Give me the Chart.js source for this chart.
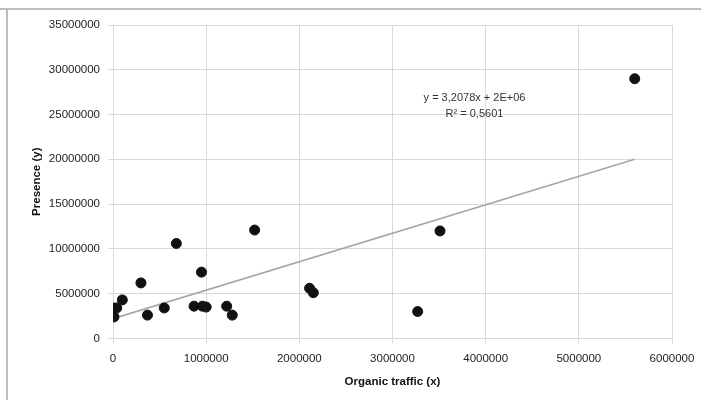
<!DOCTYPE html>
<html>
<head>
<meta charset="utf-8">
<script src="https://cdn.jsdelivr.net/npm/chart.js@4/dist/chart.umd.min.js"></script>
<style>
  html, body { margin: 0; padding: 0; background: #fff; }
  #wrap { width: 701px; height: 400px; }
</style>
</head>
<body>
<div id="wrap"><canvas id="grafico" width="701" height="400"></canvas></div>
<script>
// valores
const trafegoOrganico = [0, 40000, 10000, 100000, 300000, 370000, 550000, 680000, 870000, 950000,
                         960000, 1000000, 1220000, 1280000, 1520000, 2110000, 2150000, 3270000, 3510000, 5600000];
const presenca = [3400000, 3400000, 2400000, 4300000, 6200000, 2600000, 3400000, 10600000, 3600000, 7400000,
                  3600000, 3500000, 3600000, 2600000, 12100000, 5600000, 5100000, 3000000, 12000000, 29000000];
// linha de tendência (pontos extremos)
const tendenciaX = [0, 5600000];
const tendenciaY = [2200000, 20000000];
const eixoXTicks = [0, 1000000, 2000000, 3000000, 4000000, 5000000, 6000000];
const eixoYTicks = [0, 5000000, 10000000, 15000000, 20000000, 25000000, 30000000, 35000000];
const equacao = ['y = 3,2078x + 2E+06', 'R² = 0,5601'];

let pontos = [];
for (let i = 0; i < trafegoOrganico.length; i++) {
    pontos.push({ x: trafegoOrganico[i], y: presenca[i] });
}
let linha = [];
for (let i = 0; i < tendenciaX.length; i++) {
    linha.push({ x: tendenciaX[i], y: tendenciaY[i] });
}

const fonte = '"Liberation Sans", Arial, sans-serif';
const corGrade = '#d9d9d9';

// moldura + texto da equação
const extras = {
    id: 'extras',
    beforeDraw(chart) {
        const ctx = chart.ctx;
        ctx.save();
        ctx.fillStyle = '#fff';
        ctx.fillRect(0, 0, chart.width, chart.height);
        ctx.strokeStyle = '#bdbdbd';
        ctx.lineWidth = 2;
        ctx.beginPath();
        ctx.moveTo(0, 9);
        ctx.lineTo(chart.width, 9);
        ctx.moveTo(7, 9);
        ctx.lineTo(7, chart.height);
        ctx.stroke();
        ctx.restore();
    },
    afterDatasetsDraw(chart) {
        const ctx = chart.ctx;
        const sx = chart.scales.x, sy = chart.scales.y;
        const cx = sx.getPixelForValue(3880000);
        const cy = sy.getPixelForValue(26800000);
        ctx.save();
        ctx.fillStyle = '#333';
        ctx.font = '11px ' + fonte;
        ctx.textAlign = 'center';
        ctx.textBaseline = 'middle';
        ctx.fillText(equacao[0], cx, cy);
        ctx.fillText(equacao[1], cx, cy + 16);
        ctx.restore();
    }
};

const config = {
    type: 'scatter',
    data: {
        datasets: [
            {
                label: 'Presence',
                data: pontos,
                backgroundColor: '#111',
                borderColor: '#111',
                pointRadius: 5,
                pointHoverRadius: 5,
                order: 1
            },
            {
                label: 'Tendência',
                type: 'line',
                data: linha,
                borderColor: '#a6a6a6',
                borderWidth: 1.6,
                pointRadius: 0,
                fill: false,
                order: 2
            }
        ]
    },
    options: {
        responsive: false,
        animation: false,
        layout: { padding: { left: 26, top: 25, right: 0, bottom: 7 } },
        plugins: {
            legend: { display: false },
            tooltip: { enabled: false }
        },
        scales: {
            x: {
                type: 'linear',
                min: 0,
                max: 6000000,
                afterBuildTicks(scale) { scale.ticks = eixoXTicks.map(v => ({ value: v })); },
                afterFit(scale) { scale.paddingRight = 29; },
                grid: { color: corGrade, tickLength: 5 },
                border: { color: corGrade },
                ticks: { color: '#222', font: { family: fonte, size: 11.5 }, maxRotation: 0, padding: 9,
                         callback: v => String(v) },
                title: { display: true, text: 'Organic traffic (x)', color: '#111',
                         font: { family: fonte, size: 11.5, weight: 'bold' }, padding: { top: 0 } }
            },
            y: {
                min: 0,
                max: 35000000,
                afterBuildTicks(scale) { scale.ticks = eixoYTicks.map(v => ({ value: v })); },
                afterFit(scale) { scale.width = 87; },
                grid: { color: corGrade, tickLength: 5 },
                border: { color: corGrade },
                ticks: { color: '#222', font: { family: fonte, size: 11.5 }, padding: 8,
                         callback: v => String(v) },
                title: { display: true, text: 'Presence (y)', color: '#111',
                         font: { family: fonte, size: 11.5, weight: 'bold' }, padding: { bottom: 4 } }
            }
        }
    },
    plugins: [extras]
};

let myChart = new Chart(document.getElementById('grafico'), config);
</script>
</body>
</html>
